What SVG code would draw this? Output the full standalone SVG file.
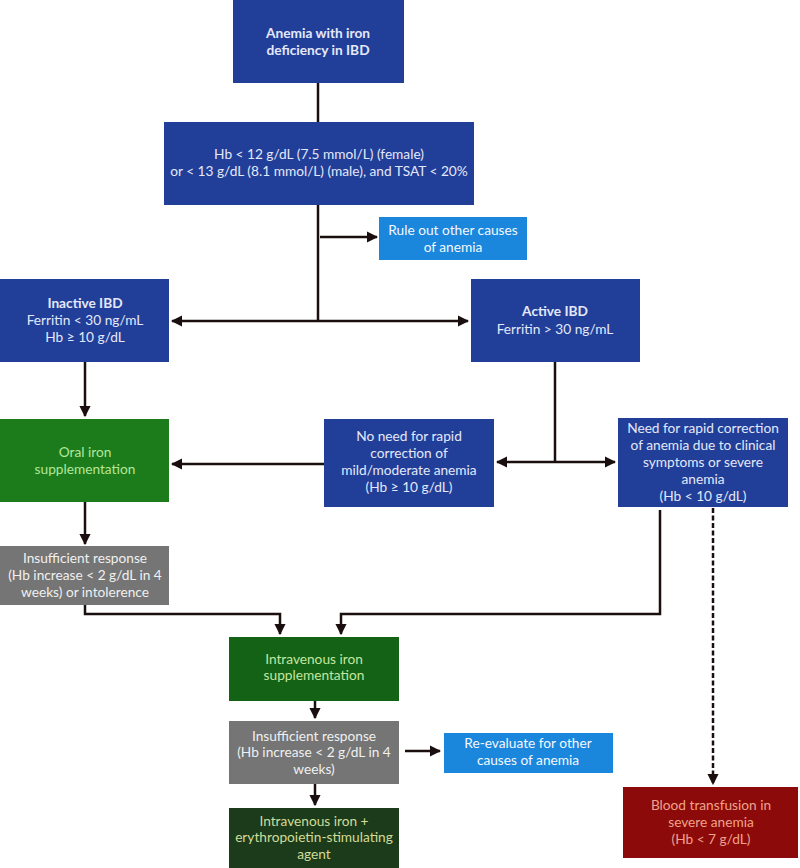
<svg xmlns="http://www.w3.org/2000/svg" width="800" height="868" viewBox="0 0 800 868">
<style>
text{font-family:Lato,"Open Sans","Liberation Sans",sans-serif;font-size:13.7px;text-anchor:middle}
.b{font-weight:bold}
.navy{fill:#213f98}
.tn{fill:#e4e8fa}
.lb{fill:#1a86dc}
.tw{fill:#f4f8ff}
.gr{fill:#757575}
.tg{fill:#f0f0f0}
.g1{fill:#1c7c1c}
.tg1{fill:#b4e69a}
.g2{fill:#136216}
.tg2{fill:#c4e6a0}
.g3{fill:#1b3b1b}
.tg3{fill:#d2dc98}
.red{fill:#8c0a0a}
.tr{fill:#f0a28a}
.ln{fill:none;stroke:#1a0e0e;stroke-width:2.5}
.ds{stroke-dasharray:5 2.5}
</style>
<defs>
<marker id="ah" viewBox="0 0 10 10" refX="9" refY="5" markerWidth="4.6" markerHeight="4.6" orient="auto" markerUnits="strokeWidth">
<path d="M0,0 L10,5 L0,10 z" fill="#1a0e0e"/>
</marker>
</defs>
<rect width="800" height="868" fill="#fff"/>
<g id="connectors">
<path class="ln" d="M318,83 V122"/>
<path class="ln" d="M318,205 V321"/>
<path class="ln" d="M320,237 H377" marker-end="url(#ah)"/>
<path class="ln" d="M318,321 H172" marker-end="url(#ah)"/>
<path class="ln" d="M318,321 H468" marker-end="url(#ah)"/>
<path class="ln" d="M85,362 V416" marker-end="url(#ah)"/>
<path class="ln" d="M555,362 V462"/>
<path class="ln" d="M555,462 H497" marker-end="url(#ah)"/>
<path class="ln" d="M555,462 H615" marker-end="url(#ah)"/>
<path class="ln" d="M324,464 H172" marker-end="url(#ah)"/>
<path class="ln" d="M85,502 V544" marker-end="url(#ah)"/>
<path class="ln" d="M85,605 V614 H280 V634" marker-end="url(#ah)"/>
<path class="ln" d="M660,510 V614 H341 V634" marker-end="url(#ah)"/>
<path class="ln ds" d="M713,508 V784" marker-end="url(#ah)"/>
<path class="ln" d="M315,701 V718" marker-end="url(#ah)"/>
<path class="ln" d="M405,751 H440" marker-end="url(#ah)"/>
<path class="ln" d="M315,784 V805" marker-end="url(#ah)"/>
</g>
<g id="n-anemia">
<rect class="navy" x="233" y="0" width="171" height="83"/>
<text class="tn b" x="318" y="38">Anemia with iron</text>
<text class="tn b" x="318" y="55">deficiency in IBD</text>
</g>
<g id="n-criteria">
<rect class="navy" x="164" y="122" width="310" height="83"/>
<text class="tn" x="319" y="159">Hb &lt; 12 g/dL (7.5 mmol/L) (female)</text>
<text class="tn" x="319" y="176">or &lt; 13 g/dL (8.1 mmol/L) (male), and TSAT &lt; 20%</text>
</g>
<g id="n-ruleout">
<rect class="lb" x="379" y="217" width="148" height="43"/>
<text class="tw" x="453" y="235">Rule out other causes</text>
<text class="tw" x="453" y="252">of anemia</text>
</g>
<g id="n-inactive">
<rect class="navy" x="0" y="279" width="169" height="83"/>
<text class="tn b" x="85" y="308">Inactive IBD</text>
<text class="tn" x="85" y="325">Ferritin &lt; 30 ng/mL</text>
<text class="tn" x="85" y="342">Hb ≥ 10 g/dL</text>
</g>
<g id="n-active">
<rect class="navy" x="471" y="279" width="169" height="83"/>
<text class="tn b" x="555" y="316">Active IBD</text>
<text class="tn" x="555" y="334">Ferritin &gt; 30 ng/mL</text>
</g>
<g id="n-oral">
<rect class="g1" x="0" y="419" width="169" height="83"/>
<text class="tg1" x="85" y="457">Oral iron</text>
<text class="tg1" x="85" y="474">supplementation</text>
</g>
<g id="n-noneed">
<rect class="navy" x="324" y="419" width="170" height="88"/>
<text class="tn" x="409" y="441">No need for rapid</text>
<text class="tn" x="409" y="458">correction of</text>
<text class="tn" x="409" y="475">mild/moderate anemia</text>
<text class="tn" x="409" y="492">(Hb ≥ 10 g/dL)</text>
</g>
<g id="n-need">
<rect class="navy" x="618" y="418" width="170" height="89"/>
<text class="tn" x="703" y="433">Need for rapid correction</text>
<text class="tn" x="703" y="450">of anemia due to clinical</text>
<text class="tn" x="703" y="467">symptoms or severe</text>
<text class="tn" x="703" y="484">anemia</text>
<text class="tn" x="703" y="501">(Hb &lt; 10 g/dL)</text>
</g>
<g id="n-insuff1">
<rect class="gr" x="0" y="546" width="169" height="59"/>
<text class="tg" x="85" y="563">Insufficient response</text>
<text class="tg" x="85" y="580">(Hb increase &lt; 2 g/dL in 4</text>
<text class="tg" x="85" y="597">weeks) or intolerence</text>
</g>
<g id="n-iv">
<rect class="g2" x="229" y="637" width="170" height="64"/>
<text class="tg2" x="314" y="664">Intravenous iron</text>
<text class="tg2" x="314" y="680">supplementation</text>
</g>
<g id="n-insuff2">
<rect class="gr" x="229" y="721" width="170" height="63"/>
<text class="tg" x="314" y="741">Insufficient response</text>
<text class="tg" x="314" y="757">(Hb increase &lt; 2 g/dL in 4</text>
<text class="tg" x="314" y="774">weeks)</text>
</g>
<g id="n-reeval">
<rect class="lb" x="444" y="733" width="169" height="40"/>
<text class="tw" x="528" y="748">Re-evaluate for other</text>
<text class="tw" x="528" y="765">causes of anemia</text>
</g>
<g id="n-esa">
<rect class="g3" x="229" y="808" width="170" height="60"/>
<text class="tg3" x="314" y="826">Intravenous iron +</text>
<text class="tg3" x="314" y="842">erythropoietin-stimulating</text>
<text class="tg3" x="314" y="859">agent</text>
</g>
<g id="n-transfusion">
<rect class="red" x="623" y="787" width="175" height="71"/>
<text class="tr" x="711" y="810">Blood transfusion in</text>
<text class="tr" x="711" y="827">severe anemia</text>
<text class="tr" x="711" y="844">(Hb &lt; 7 g/dL)</text>
</g>
</svg>
